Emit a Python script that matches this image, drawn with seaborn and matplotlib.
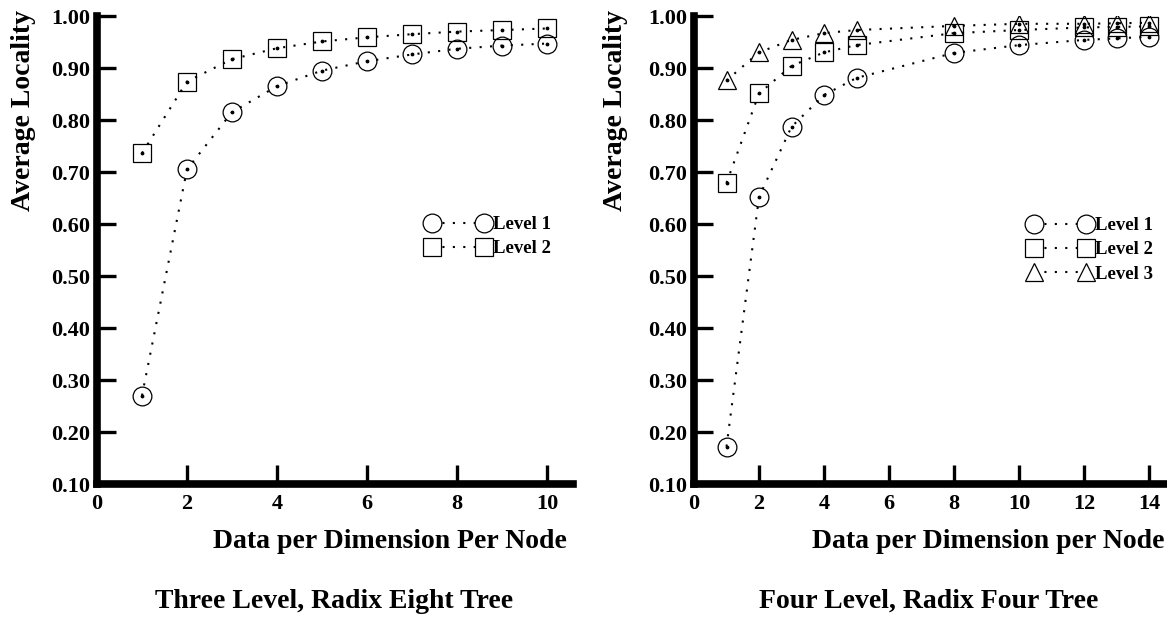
import matplotlib
matplotlib.use("Agg")
import matplotlib.pyplot as plt
from matplotlib.lines import Line2D
import seaborn as sns
import pandas as pd

# left panel: three level, radix eight tree
x_left = [1, 2, 3, 4, 5, 6, 7, 8, 9, 10]
left_level1 = [0.270, 0.705, 0.815, 0.865, 0.895, 0.913, 0.926, 0.937, 0.943, 0.947]
left_level2 = [0.736, 0.874, 0.917, 0.938, 0.951, 0.959, 0.965, 0.970, 0.973, 0.976]

# right panel: four level, radix four tree
x_right = [1, 2, 3, 4, 5, 8, 10, 12, 13, 14]
right_level1 = [0.172, 0.652, 0.787, 0.848, 0.881, 0.929, 0.944, 0.954, 0.957, 0.960]
right_level2 = [0.679, 0.851, 0.904, 0.930, 0.944, 0.967, 0.973, 0.978, 0.979, 0.980]
right_level3 = [0.876, 0.930, 0.954, 0.967, 0.973, 0.981, 0.985, 0.985, 0.986, 0.987]

yticks = [0.10, 0.20, 0.30, 0.40, 0.50, 0.60, 0.70, 0.80, 0.90, 1.00]

sns.set_style("ticks")
plt.rcParams['font.family'] = ['Liberation Serif', 'DejaVu Serif']
plt.rcParams['font.weight'] = 'bold'
plt.rcParams['text.color'] = 'black'
plt.rcParams['axes.edgecolor'] = 'black'
plt.rcParams['xtick.color'] = 'black'
plt.rcParams['ytick.color'] = 'black'

W, H = 1167, 618
fig = plt.figure(figsize=(W / 100, H / 100), dpi=100)

def px_axes(x0, x1, y0, y1):
    return fig.add_axes([x0 / W, 1 - y1 / H, (x1 - x0) / W, (y1 - y0) / H])

ax_l = px_axes(97, 573, 16, 484)
ax_r = px_axes(694, 1167, 16, 484)

dotted = (0, (1, 4))
mstyle = dict(color="black", mfc="none", mec="black", mew=0.9, ms=13.5,
              linestyle=dotted, lw=1.5)

def draw(ax, x, series, markers, labels):
    handles = []
    for vals, mk, lab in zip(series, markers, labels):
        df = pd.DataFrame({"x": x, "y": vals})
        sns.lineplot(data=df, x="x", y="y", ax=ax, marker=mk, legend=False, **mstyle)
        ax.scatter(df["x"], df["y"], s=3, color="black", zorder=3)
        handles.append(Line2D([0], [0], marker=mk, color="black", mfc="white", mec="black",
                              mew=0.9, ms=13.5, linestyle=dotted, lw=1.5))
    return handles

h_l = draw(ax_l, x_left, [left_level1, left_level2], ["o", "s"], ["Level 1", "Level 2"])
h_r = draw(ax_r, x_right, [right_level1, right_level2, right_level3], ["o", "s", "^"],
           ["Level 1", "Level 2", "Level 3"])

for ax, xmax, xt in [(ax_l, 10.58, range(0, 11, 2)), (ax_r, 14.55, range(0, 15, 2))]:
    ax.set_xlim(0, xmax)
    ax.set_ylim(0.10, 1.00)
    ax.set_xticks(list(xt))
    ax.set_yticks(yticks)
    ax.set_yticklabels([f"{v:.2f}" for v in yticks])
    ax.set_xlabel("")
    ax.set_ylabel("")
    sns.despine(ax=ax)
    for s in ["left", "bottom"]:
        ax.spines[s].set_linewidth(5.5)
        ax.spines[s].set_color("black")
    ax.tick_params(direction="in", length=14, width=2.4, labelsize=16, pad=5, colors="black")
    ax.tick_params(axis="x", pad=7)
    for t in ax.get_xticklabels() + ax.get_yticklabels():
        t.set_fontweight("bold")
    ax.patch.set_alpha(0)

leg_kw = dict(numpoints=2, frameon=False, handlelength=3.4, handletextpad=0.15,
              labelspacing=0.38, borderpad=0, borderaxespad=0, loc="upper left",
              prop={"size": 13.5, "weight": "bold"})
ax_l.legend(h_l, ["Level 1", "Level 2"], bbox_to_anchor=(426 / W, 1 - 216 / H),
            bbox_transform=fig.transFigure, **leg_kw)
ax_r.legend(h_r, ["Level 1", "Level 2", "Level 3"], bbox_to_anchor=(1028 / W, 1 - 217 / H),
            bbox_transform=fig.transFigure, **leg_kw)

# axis titles
fig.text(23 / W, 1 - 10 / H, "Average Locality", rotation=90, ha="center", va="top",
         fontsize=20, fontweight="bold")
fig.text(615 / W, 1 - 10 / H, "Average Locality", rotation=90, ha="center", va="top",
         fontsize=20, fontweight="bold")
fig.text(567 / W, 1 - 542 / H, "Data per Dimension Per Node", ha="right", va="center",
         fontsize=20, fontweight="bold")
fig.text(1164 / W, 1 - 542 / H, "Data per Dimension per Node", ha="right", va="center",
         fontsize=20, fontweight="bold")
fig.text(334 / W, 1 - 601 / H, "Three Level, Radix Eight Tree", ha="center", va="center",
         fontsize=20, fontweight="bold")
fig.text(929 / W, 1 - 601 / H, "Four Level, Radix Four Tree", ha="center", va="center",
         fontsize=20, fontweight="bold")

fig.savefig("out.png", dpi=100)
